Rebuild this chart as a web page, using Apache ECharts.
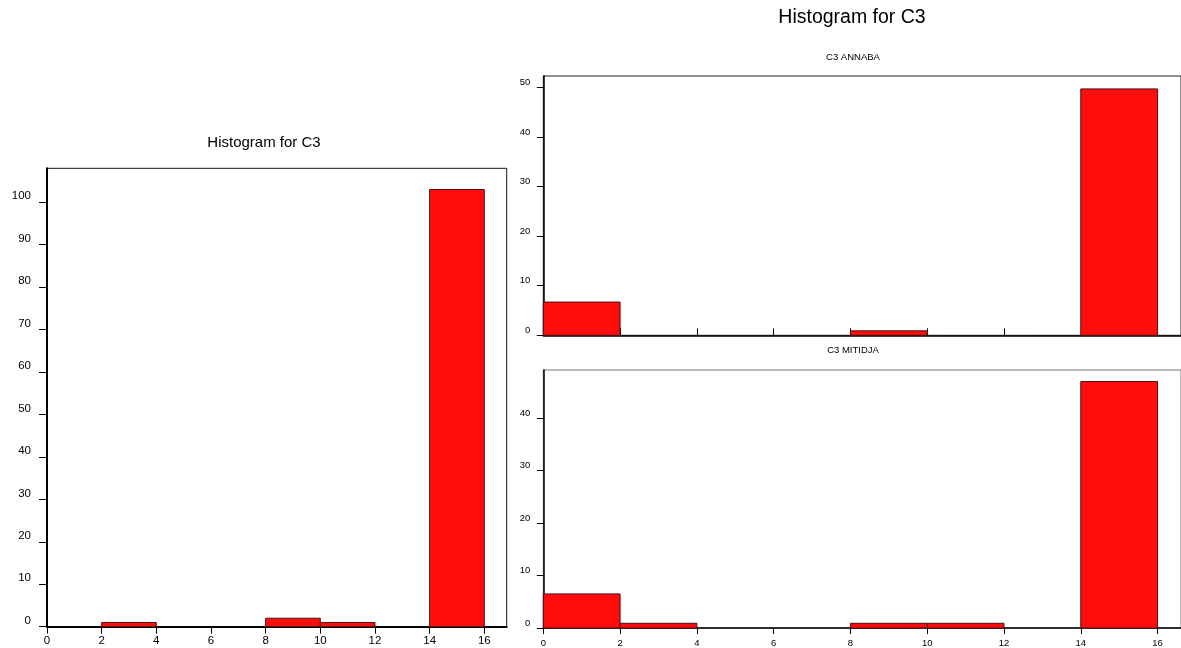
<!DOCTYPE html>
<html>
<head>
<meta charset="utf-8">
<script src="https://cdn.jsdelivr.net/npm/echarts@6/dist/echarts.min.js"></script>
<style>
html,body{margin:0;padding:0;background:#fff;}
#chart{width:1181px;height:648px;}
</style>
</head>
<body>
<div id="chart"></div>
<script>
// ---- data ----
const binEdges = [0, 2, 4, 6, 8, 10, 12, 14, 16];
const allCounts = [0, 1, 0, 0, 2, 1, 0, 103];
const annabaCounts = [6.7, 0, 0, 0, 0.9, 0, 0, 49.7];
const mitidjaCounts = [6.5, 0.9, 0, 0, 0.9, 0.9, 0, 47];
const xTickValues = [0, 2, 4, 6, 8, 10, 12, 14, 16];
const yTicksAll = [0, 10, 20, 30, 40, 50, 60, 70, 80, 90, 100];
const yTicksAnnaba = [0, 10, 20, 30, 40, 50];
const yTicksMitidja = [0, 10, 20, 30, 40];
const mainTitle = 'Histogram for C3';
const panelTitles = ['C3 ANNABA', 'C3 MITIDJA'];

function toBins(counts) {
  return counts.map((c, i) => [binEdges[i], binEdges[i + 1], c]).filter(d => d[2] > 0);
}

const FONT = 'Liberation Sans, Arial, sans-serif';

function renderBar(params, api) {
  const x0 = api.value(0), x1 = api.value(1), y = api.value(2);
  const pTop = api.coord([x0, y]);
  const pBot = api.coord([x1, 0]);
  return {
    type: 'rect',
    shape: { x: pTop[0], y: pTop[1], width: pBot[0] - pTop[0], height: pBot[1] - pTop[1] },
    style: { fill: '#ff0d0d', stroke: '#4a1212', lineWidth: 1 }
  };
}

function xAxisCfg(gridIndex, max, opts) {
  return {
    type: 'value', gridIndex: gridIndex, min: 0, max: max,
    axisLine: { show: true, onZero: false, lineStyle: { color: '#000', width: opts.lw } },
    axisTick: { show: true, inside: !!opts.inside, length: opts.tickLen, customValues: xTickValues,
                lineStyle: { color: '#000', width: 1 } },
    axisLabel: { show: opts.labels, customValues: xTickValues, color: '#000', fontFamily: FONT,
                 fontSize: opts.fs, margin: opts.margin },
    splitLine: { show: false }
  };
}

function yAxisCfg(gridIndex, max, ticks, opts) {
  return {
    type: 'value', gridIndex: gridIndex, min: 0, max: max,
    axisLine: { show: true, onZero: false, lineStyle: { color: '#000', width: opts.lw } },
    axisTick: { show: true, length: opts.tickLen, customValues: ticks, lineStyle: { color: '#000', width: 1 } },
    axisLabel: { show: true, customValues: ticks, color: '#000', fontFamily: FONT,
                 fontSize: opts.fs, margin: opts.margin, verticalAlign: 'bottom' },
    splitLine: { show: false }
  };
}

const chart = echarts.init(document.getElementById('chart'), null, { renderer: 'canvas' });
chart.setOption({
  animation: false,
  backgroundColor: '#fff',
  grid: [
    { left: 47, top: 168.3, width: 459.7, height: 458.4, show: true, borderColor: '#111', borderWidth: 1, backgroundColor: 'transparent' },
    { left: 543.3, top: 76, width: 638.5, height: 259.3, show: true, borderColor: '#222', borderWidth: 1, backgroundColor: 'transparent' },
    { left: 543.3, top: 370, width: 638.5, height: 258.3, show: true, borderColor: '#777', borderWidth: 1, backgroundColor: 'transparent' }
  ],
  xAxis: [
    xAxisCfg(0, 16.82, { lw: 2, tickLen: 7, labels: true, fs: 11.5, margin: 8 }),
    xAxisCfg(1, 16.61, { lw: 1.5, tickLen: 7, labels: false, inside: true, fs: 9.5, margin: 8 }),
    xAxisCfg(2, 16.61, { lw: 1.5, tickLen: 6, labels: true, fs: 9.5, margin: 10 })
  ],
  yAxis: [
    yAxisCfg(0, 108, yTicksAll, { lw: 2, tickLen: 8, fs: 11.5, margin: 16 }),
    yAxisCfg(1, 52.3, yTicksAnnaba, { lw: 1.5, tickLen: 6.5, fs: 9.5, margin: 13 }),
    yAxisCfg(2, 49.2, yTicksMitidja, { lw: 1.5, tickLen: 6.5, fs: 9.5, margin: 13 })
  ],
  graphic: [
    { type: 'text', x: 264, y: 142.5, style: { text: mainTitle, fill: '#000', font: '15px ' + FONT, textAlign: 'center', textVerticalAlign: 'middle' } },
    { type: 'text', x: 852, y: 17.5, style: { text: mainTitle, fill: '#000', font: '19.5px ' + FONT, textAlign: 'center', textVerticalAlign: 'middle' } },
    { type: 'text', x: 853, y: 57.5, style: { text: panelTitles[0], fill: '#000', font: '9.5px ' + FONT, textAlign: 'center', textVerticalAlign: 'middle' } },
    { type: 'text', x: 853, y: 350.7, style: { text: panelTitles[1], fill: '#000', font: '9.5px ' + FONT, textAlign: 'center', textVerticalAlign: 'middle' } }
  ],
  series: [
    { type: 'custom', xAxisIndex: 0, yAxisIndex: 0, renderItem: renderBar, data: toBins(allCounts), encode: { x: [0, 1], y: 2 } },
    { type: 'custom', xAxisIndex: 1, yAxisIndex: 1, renderItem: renderBar, data: toBins(annabaCounts), encode: { x: [0, 1], y: 2 } },
    { type: 'custom', xAxisIndex: 2, yAxisIndex: 2, renderItem: renderBar, data: toBins(mitidjaCounts), encode: { x: [0, 1], y: 2 } }
  ]
});
</script>
</body>
</html>
